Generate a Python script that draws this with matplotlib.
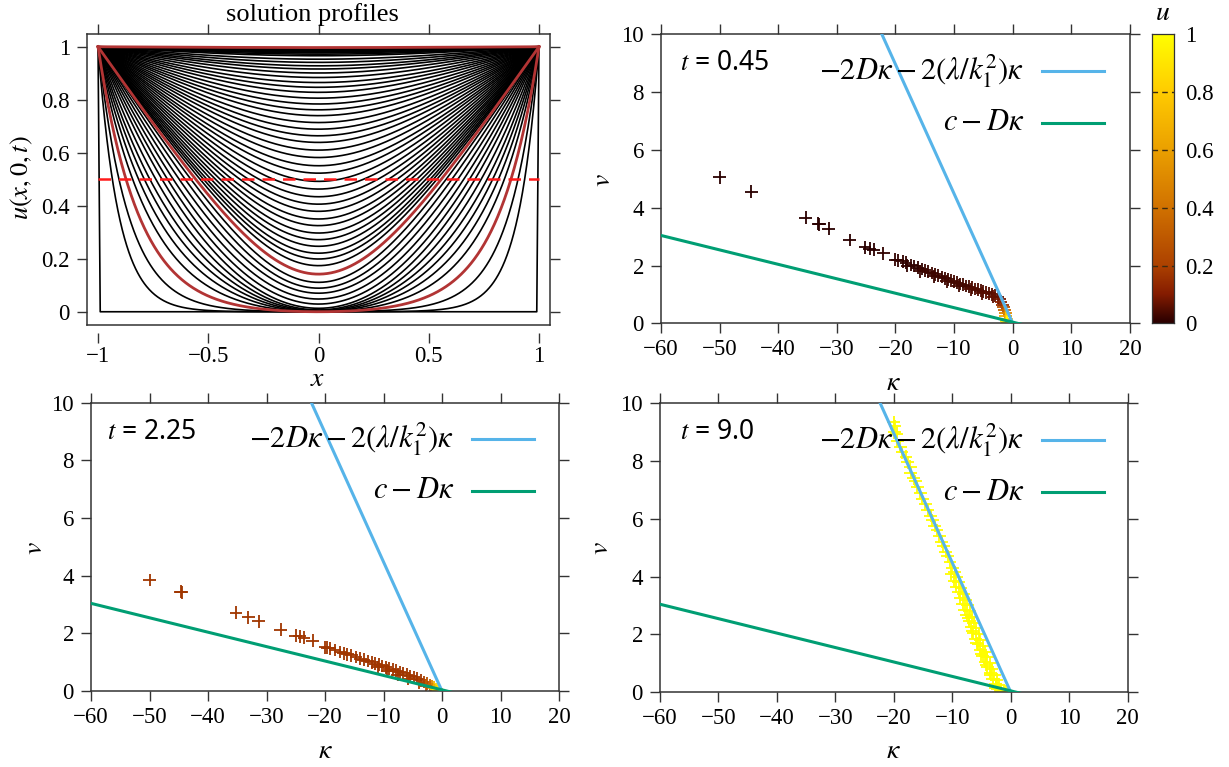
import numpy as np
import matplotlib
matplotlib.use("Agg")
import matplotlib.pyplot as plt
from matplotlib.colors import LinearSegmentedColormap
from matplotlib.lines import Line2D

# ---------------- data ----------------
# centre value u(0,0,t) of each of the 61 solution profiles (t = 0 ... 9.0)
centre_u = [0.0, 0.0, 0.0, 0.0, 0.0, 0.001, 0.002, 0.004, 0.007, 0.013,
            0.029, 0.048, 0.070, 0.089, 0.111, 0.142, 0.174, 0.199, 0.221, 0.247,
            0.272, 0.297, 0.325, 0.350, 0.379, 0.406, 0.434, 0.463, 0.492, 0.523,
            0.551, 0.582, 0.610, 0.639, 0.664, 0.689, 0.714, 0.740, 0.762, 0.784,
            0.806, 0.828, 0.847, 0.865, 0.884, 0.901, 0.916, 0.928, 0.941, 0.953,
            0.966, 0.972, 0.977, 0.981, 0.985, 0.988, 0.990, 0.992, 0.994, 0.995,
            0.997]
# |x| where the early profiles cross u = 0.5 (profiles 1..15)
half_x = [None, 0.935, 0.905, 0.873, 0.843, 0.816, 0.790, 0.765, 0.738, 0.710,
          0.685, 0.659, 0.632, 0.605, 0.579, 0.557]
mid_width = 0.40     # rounding width of the later bowl-shaped profiles
late_width = 0.60
red_profiles = [3, 15, 60]
threshold_u = 0.5

# kappa, v, u scatter for the three times
k045 = [-50.0, -44.6, -35.3, -33.2, -33.0, -31.4, -27.8, -25.2, -24.4, -23.7, -22.1, -20.0,
        -19.6, -18.8, -18.2, -17.3, -16.8, -16.2, -15.5, -15.0, -14.4, -13.8, -13.2, -12.7,
        -12.1, -11.6, -11.0, -10.5, -10.0, -9.5, -9.0, -8.5, -8.0, -7.5, -7.0, -6.5, -6.0,
        -5.5, -5.0, -4.5, -4.0, -3.5, -3.0, -2.6, -2.3, -2.0, -1.8, -1.6, -1.45, -1.3,
        -1.2, -1.1, -1.0, -0.9,
        -18.0, -15.8, -13.5, -11.3, -9.2, -7.2, -5.2, -3.3]
v045 = [5.05, 4.55, 3.65, 3.45, 3.42, 3.28, 2.88, 2.63, 2.58, 2.55, 2.42, 2.20,
        2.18, 2.15, 2.10, 2.02, 1.98, 1.93, 1.88, 1.83, 1.78, 1.74, 1.70, 1.65,
        1.60, 1.56, 1.52, 1.48, 1.44, 1.40, 1.36, 1.33, 1.29, 1.26, 1.23, 1.19, 1.16,
        1.13, 1.10, 1.07, 1.04, 1.00, 0.95, 0.90, 0.83, 0.74, 0.65, 0.55, 0.45, 0.35,
        0.25, 0.16, 0.08, 0.02,
        2.00, 1.80, 1.62, 1.45, 1.30, 1.17, 1.04, 0.92]
u045 = [0.0, 0.0, 0.0, 0.0, 0.0, 0.0, 0.0, 0.0, 0.0, 0.0, 0.01, 0.01,
        0.01, 0.01, 0.01, 0.01, 0.01, 0.01, 0.01, 0.02, 0.02, 0.02, 0.02, 0.02,
        0.02, 0.02, 0.02, 0.03, 0.03, 0.03, 0.03, 0.03, 0.03, 0.03, 0.04, 0.04, 0.04,
        0.04, 0.04, 0.05, 0.05, 0.05, 0.06, 0.07, 0.08, 0.12, 0.16, 0.25, 0.35, 0.50,
        0.65, 0.80, 0.90, 1.0,
        0.01, 0.02, 0.02, 0.03, 0.03, 0.04, 0.05, 0.06]

k225 = [-50.0, -44.7, -44.5, -35.2, -33.1, -31.3, -27.6, -25.0, -24.3, -23.6, -22.1, -20.0,
        -19.6, -19.2, -18.3, -17.4, -16.8, -16.2, -15.5, -14.7, -14.0, -13.4, -12.7, -12.0,
        -11.4, -10.8, -10.2, -9.6, -9.0, -8.4, -7.8, -7.2, -6.6, -6.0, -5.4, -4.8, -4.2,
        -3.6, -3.0, -2.5, -2.1, -1.7, -1.3, -1.0, -0.7,
        -11.0, -9.4, -7.6, -5.8, -4.0, -2.8]
v225 = [3.85, 3.45, 3.43, 2.72, 2.55, 2.42, 2.12, 1.92, 1.90, 1.85, 1.75, 1.52,
        1.50, 1.48, 1.42, 1.35, 1.31, 1.28, 1.24, 1.18, 1.12, 1.08, 1.04, 0.99,
        0.95, 0.91, 0.87, 0.82, 0.78, 0.74, 0.70, 0.66, 0.61, 0.56, 0.52, 0.47, 0.42,
        0.37, 0.31, 0.26, 0.21, 0.16, 0.11, 0.06, 0.02,
        0.82, 0.70, 0.56, 0.42, 0.28, 0.18]
u225 = [0.17] * 38 + [0.20, 0.25, 0.35, 0.50, 0.70, 0.85, 0.95,
                      0.17, 0.17, 0.17, 0.18, 0.20, 0.30]

k900 = [-20.0, -19.8, -19.9, -19.5, -19.4, -18.9, -18.6, -17.9, -17.6, -17.2, -17.1, -16.6,
        -16.3, -16.0, -15.5, -15.1, -14.6, -14.2, -13.7, -13.4, -13.0, -12.6, -12.2, -11.8,
        -11.5, -11.1, -10.8, -10.4, -10.0, -9.6, -10.2, -9.3, -9.7, -8.9, -9.3, -8.5, -8.9,
        -8.1, -8.6, -7.8, -8.2, -7.4, -7.9, -7.0, -7.5, -6.7, -7.1, -6.3, -6.8, -5.9, -6.4,
        -5.5, -6.0, -5.2, -5.6, -4.8, -5.2, -4.4, -4.8, -4.0, -4.4, -3.6, -4.0, -3.2, -3.5,
        -2.8, -3.1, -2.4, -2.6, -2.0, -2.2, -1.6, -1.8, -1.2, -0.8,
        -7.2, -6.6, -5.8, -5.0, -4.2, -3.4, -2.6]
v900 = [9.35, 9.20, 9.00, 8.95, 8.70, 8.50, 8.30, 8.15, 7.95, 7.80, 7.60, 7.40,
        7.30, 7.10, 6.90, 6.70, 6.50, 6.30, 6.10, 5.95, 5.75, 5.60, 5.40, 5.20,
        5.05, 4.85, 4.70, 4.50, 4.30, 4.15, 4.10, 4.00, 3.85, 3.80, 3.65, 3.60, 3.45,
        3.40, 3.25, 3.20, 3.05, 3.00, 2.85, 2.80, 2.65, 2.60, 2.45, 2.40, 2.25, 2.20, 2.05,
        2.00, 1.85, 1.80, 1.65, 1.60, 1.45, 1.40, 1.25, 1.20, 1.05, 1.00, 0.85, 0.80, 0.65,
        0.60, 0.45, 0.42, 0.28, 0.25, 0.12, 0.10, 0.03, 0.03, 0.02,
        2.55, 2.10, 1.70, 1.30, 0.95, 0.60, 0.15]
u900 = [0.99] * len(k900)

# reference lines
D_coef = 0.05
c_speed = 0.04
blue_slope = 0.448
kappa_range = [-60.0, 20.0]

time_labels = ["0.45", "2.25", "9.0"]
x_ticks_prof = [-1, -0.5, 0, 0.5, 1]
y_ticks_prof = [0, 0.2, 0.4, 0.6, 0.8, 1]
k_ticks = [-60, -50, -40, -30, -20, -10, 0, 10, 20]
v_ticks = [0, 2, 4, 6, 8, 10]
cb_ticks = [0, 0.2, 0.4, 0.6, 0.8, 1]

# ---------------- style ----------------
plt.rcParams["font.family"] = ["Liberation Serif", "DejaVu Serif"]
plt.rcParams["mathtext.fontset"] = "stix"
W, H = 1229, 767
fig = plt.figure(figsize=(W / 100, H / 100), dpi=100)

cmap = LinearSegmentedColormap.from_list(
    "heat", [(0.0, "#2a0000"), (0.1, "#851c00"), (0.2, "#ad4200"), (0.4, "#d17200"),
             (0.6, "#eba000"), (0.8, "#ffcb00"), (1.0, "#ffff00")])

FRAME = "#333333"
TICKFS = 16.5


def axes_px(left, top, right, bottom):
    return fig.add_axes([left / W, 1 - bottom / H, (right - left) / W, (bottom - top) / H])


def P(x, y):
    return x / W, 1 - y / H


def fmt(v):
    return ("%g" % v).replace("-", "\u2212")


def style_axes(ax):
    for s in ax.spines.values():
        s.set_color(FRAME)
        s.set_linewidth(1.1)
    ax.tick_params(which="both", direction="out", length=7.3, width=1.0, color=FRAME,
                   labelsize=TICKFS, top=True, right=True, labeltop=False, labelright=False)
    ax.tick_params(axis="x", pad=4)
    ax.tick_params(axis="y", pad=5)


# ---------------- solution profiles ----------------
def logcosh(z):
    z = np.abs(z)
    return z + np.log1p(np.exp(-2 * z)) - np.log(2.0)


def g_cosh(x, w):
    return (np.cosh(x / w) - 1) / (np.cosh(1 / w) - 1)


def g_lc(x, w):
    return logcosh(x / w) / logcosh(1 / w)


def profile_shape(m, xh):
    if xh is None:
        frac = min(1.0, max(0.0, (m - 0.5) / 0.5))
        w = mid_width + (late_width - mid_width) * frac
        return lambda x: g_lc(x, w)
    target = (0.5 - m) / (1 - m)
    if target < xh ** 2:
        lo, hi = np.log(0.008), np.log(200.0)
        for _ in range(80):
            mid = 0.5 * (lo + hi)
            if g_cosh(xh, np.exp(mid)) < target:
                lo = mid
            else:
                hi = mid
        w = np.exp(0.5 * (lo + hi))
        return lambda x: g_cosh(x, w)
    lo, hi = np.log(0.003), np.log(200.0)
    for _ in range(80):
        mid = 0.5 * (lo + hi)
        if g_lc(xh, np.exp(mid)) > target:
            lo = mid
        else:
            hi = mid
    w = np.exp(0.5 * (lo + hi))
    return lambda x: g_lc(x, w)


def profile(k, xs):
    m = centre_u[k]
    xh = half_x[k] if k < len(half_x) else None
    g = profile_shape(m, xh)
    return m + (1 - m) * g(np.abs(xs))


ax0 = axes_px(87, 33.5, 550, 325)
style_axes(ax0)
xs = np.linspace(-1, 1, 801)
for k in range(len(centre_u)):
    if k in red_profiles:
        continue
    if k == 0:
        ax0.plot([-1, -0.99, 0.99, 1], [1, 0, 0, 1], color="black", lw=1.2, zorder=2)
    else:
        ax0.plot(xs, profile(k, xs), color="black", lw=1.2, zorder=2)
for k in red_profiles:
    ax0.plot(xs, profile(k, xs), color="#b23434", lw=2.0, zorder=3)
ax0.plot([-1, 1], [threshold_u, threshold_u], color="#ff1a1a", lw=1.8,
         dashes=(5, 3.2), zorder=4)
ax0.set_xlim(-1.05, 1.05)
ax0.set_ylim(-0.05, 1.05)
ax0.set_xticks(x_ticks_prof)
ax0.set_yticks(y_ticks_prof)
ax0.set_xticklabels([fmt(v) for v in x_ticks_prof])
ax0.set_yticklabels([fmt(v) for v in y_ticks_prof])
ax0.spines["bottom"].set_position(("outward", 6))
ax0.spines["bottom"].set_visible(False)
ax0.plot([0, 1], [0, 0], transform=ax0.transAxes, color=FRAME, lw=1.1, clip_on=False)
ax0.tick_params(axis="x", pad=2)
fig.text(*P(312, 15), "solution profiles", ha="center", va="center", fontsize=19)
fig.text(*P(318, 379), r"$x$", ha="center", va="center", fontsize=20)
fig.text(*P(22, 178), r"$u(x,0,t)$", ha="center", va="center", fontsize=19, rotation=90)

# ---------------- v vs kappa panels ----------------
panels = [
    dict(box=(661, 34.3, 1130, 323.3), k=k045, v=v045, u=u045, lab=time_labels[0],
         tpos=(680, 63), legx=1024, legl=(1042, 1104), legy=(71, 123),
         xlab=(893, 383), ylab=(603, 180)),
    dict(box=(91, 402.7, 559, 691), k=k225, v=v225, u=u225, lab=time_labels[1],
         tpos=(107, 432), legx=454, legl=(472, 534), legy=(439, 491),
         xlab=(325, 752), ylab=(35, 548)),
    dict(box=(660, 403.3, 1127.6, 692), k=k900, v=v900, u=u900, lab=time_labels[2],
         tpos=(680, 432), legx=1024, legl=(1042, 1104), legy=(440, 492),
         xlab=(893, 752), ylab=(602, 548)),
]
BLUE, GREEN = "#56b4e9", "#009e73"
kap = np.array(kappa_range)
for pnl in panels:
    ax = axes_px(*pnl["box"])
    style_axes(ax)
    ax.scatter(pnl["k"], pnl["v"], c=pnl["u"], cmap=cmap, vmin=0, vmax=1, marker="+",
               s=85, linewidths=1.3, zorder=2)
    ax.plot(kap, -blue_slope * kap, color=BLUE, lw=2.2, zorder=3)
    ax.plot(kap, c_speed - D_coef * kap, color=GREEN, lw=2.2, zorder=3)
    ax.set_xlim(-60, 20)
    ax.set_ylim(0, 10)
    ax.set_xticks(k_ticks)
    ax.set_yticks(v_ticks)
    ax.set_xticklabels([fmt(v) for v in k_ticks])
    ax.set_yticklabels([fmt(v) for v in v_ticks])
    fig.text(*P(*pnl["tpos"]), r"$t$ = " + pnl["lab"], ha="left", va="center",
             fontsize=19, family=["Noto Sans", "DejaVu Sans"])
    fig.text(*P(pnl["legx"], pnl["legy"][0]), r"$-2D\kappa - 2(\lambda/k_1^2)\kappa$",
             ha="right", va="center", fontsize=22)
    fig.text(*P(pnl["legx"], pnl["legy"][1]), r"$c - D\kappa$",
             ha="right", va="center", fontsize=22)
    for yy, col in zip(pnl["legy"], [BLUE, GREEN]):
        x1, y1 = P(pnl["legl"][0], yy)
        x2, _ = P(pnl["legl"][1], yy)
        fig.add_artist(Line2D([x1, x2], [y1, y1], color=col, lw=2.2))
    fig.text(*P(*pnl["xlab"]), r"$\kappa$", ha="center", va="center", fontsize=20)
    fig.text(*P(*pnl["ylab"]), r"$v$", ha="center", va="center", fontsize=20, rotation=90)

# ---------------- colour bar ----------------
cax = axes_px(1152, 34.3, 1174.3, 323.3)
grad = np.linspace(0, 1, 256).reshape(-1, 1)
cax.imshow(grad, cmap=cmap, origin="lower", aspect="auto", extent=[0, 1, 0, 1])
for t in cb_ticks[1:-1]:
    cax.plot([0, 1], [t, t], color="#3a2a10", lw=1.0, dashes=(4, 3))
cax.set_xlim(0, 1)
cax.set_ylim(0, 1)
cax.set_xticks([])
cax.set_yticks(cb_ticks)
cax.set_yticklabels([fmt(v) for v in cb_ticks])
cax.yaxis.tick_right()
cax.tick_params(axis="y", length=0, pad=8, labelsize=TICKFS)
for s in cax.spines.values():
    s.set_color(FRAME)
    s.set_linewidth(0.9)
fig.text(*P(1163, 14), r"$u$", ha="center", va="center", fontsize=20)

fig.savefig("out.png", dpi=100)
